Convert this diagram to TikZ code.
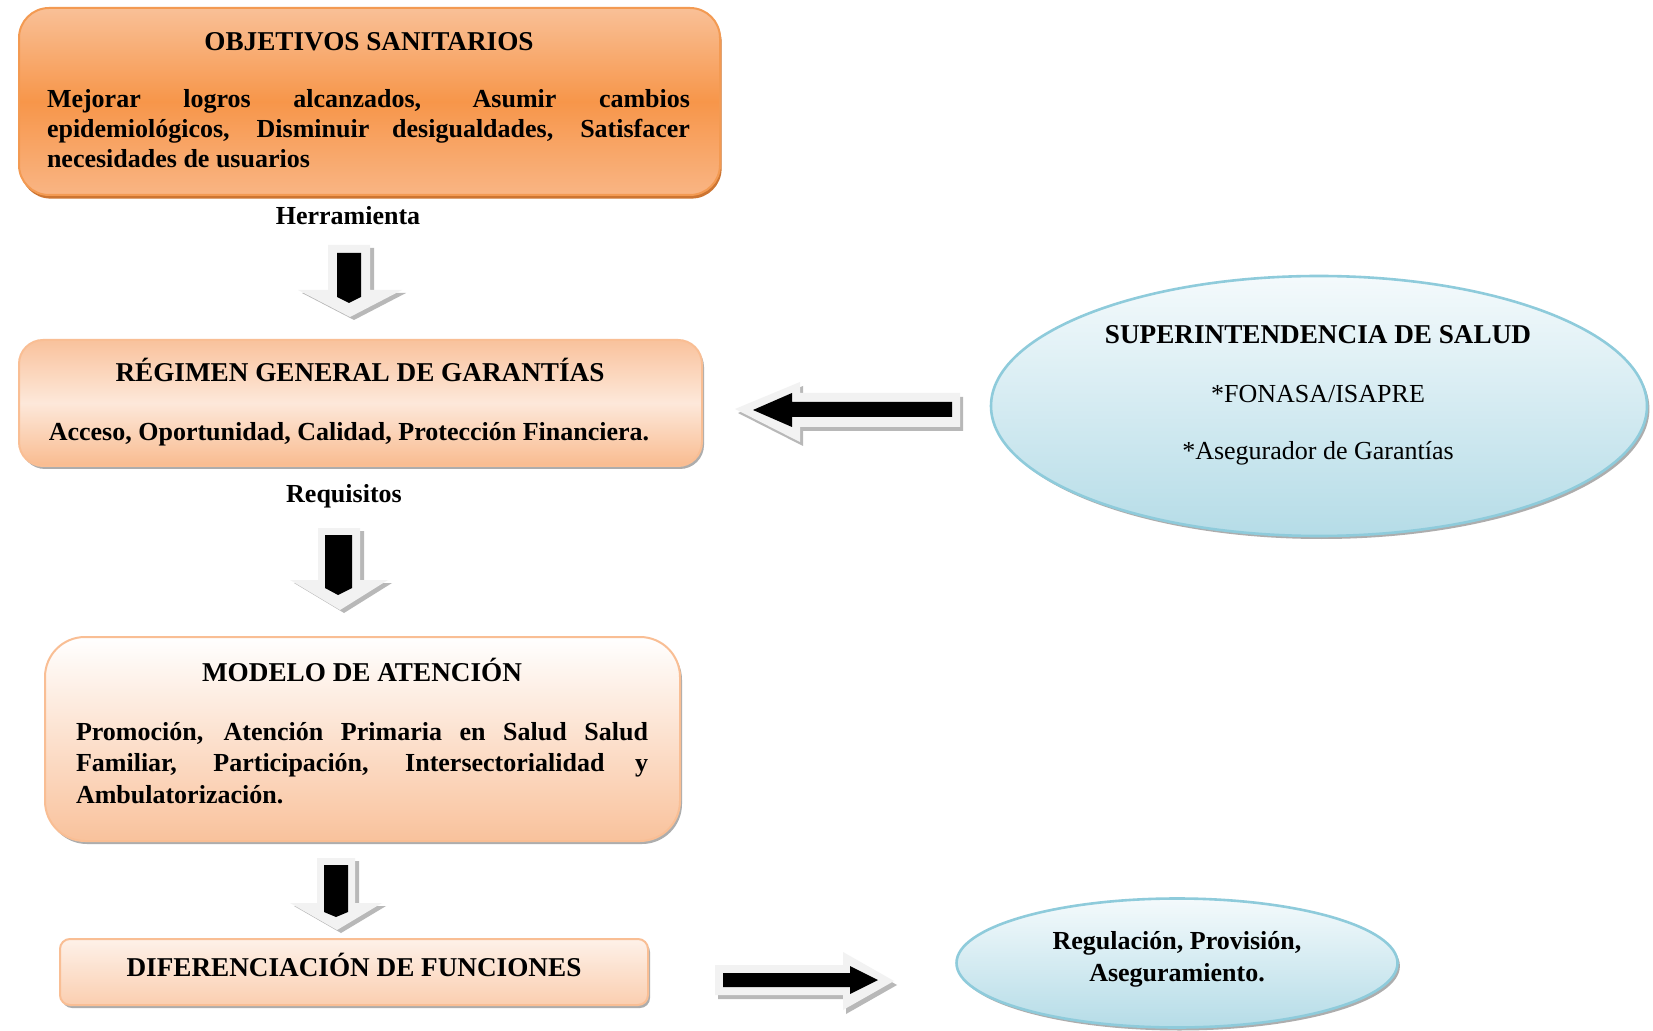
\documentclass[tikz,border=0pt]{standalone}
\usepackage{fontspec}
\setmainfont{Liberation Serif}
\usetikzlibrary{shadows,shapes.geometric}
\definecolor{orTop}{HTML}{F9C097}
\definecolor{orMid}{HTML}{F7964A}
\definecolor{orBot}{HTML}{F9B584}
\definecolor{orLine}{HTML}{F39A52}
\definecolor{orShadow}{HTML}{C8661C}
\definecolor{peach}{HTML}{F9C29C}
\definecolor{peachLight}{HTML}{FDE8DA}
\definecolor{peachLine}{HTML}{F9BE94}
\definecolor{blTop}{HTML}{F4FAFC}
\definecolor{blBot}{HTML}{B5DCE7}
\definecolor{blLine}{HTML}{8ECBDB}
\definecolor{arrLight}{HTML}{F2F2F2}
\definecolor{arrShadow}{HTML}{B8B8B8}
\begin{document}
\begin{tikzpicture}[x=0.5pt,y=-0.5pt,
  every node/.style={inner sep=0pt, outer sep=0pt},
  txt/.style={font=\fontsize{13}{15}\selectfont\bfseries},
  ttl/.style={font=\fontsize{13.6}{15}\selectfont\bfseries},
  txtn/.style={font=\fontsize{13}{15}\selectfont},
  boxbase/.style={rounded corners=#1, line width=1pt},
  objbox/.style={boxbase=15pt, draw=orLine, top color=orTop, bottom color=orBot, middle color=orMid,
     drop shadow={shadow xshift=0.8pt, shadow yshift=-1.8pt, fill=orShadow, opacity=0.9}},
  regbox/.style={boxbase=12pt, draw=peachLine, top color=peach, bottom color=peach!85!orMid, middle color=peachLight,
     drop shadow={shadow xshift=1pt, shadow yshift=-1.5pt, fill=black!40, opacity=0.8}},
  modbox/.style={boxbase=20pt, draw=peachLine, top color=white, bottom color=peach,
     drop shadow={shadow xshift=1pt, shadow yshift=-1.5pt, fill=black!40, opacity=0.8}},
  difbox/.style={boxbase=5pt, draw=peachLine, top color=peachLight!60!white, bottom color=peach!80!white,
     drop shadow={shadow xshift=1pt, shadow yshift=-1.5pt, fill=black!40, opacity=0.8}},
  ovalbox/.style={ellipse, line width=1.3pt, draw=blLine, top color=blTop, bottom color=blBot,
     drop shadow={shadow xshift=1.2pt, shadow yshift=-1.5pt, fill=black!40, opacity=0.8}},
  arrout/.style={fill=arrLight},
  arrsh/.style={fill=arrShadow},
  arrin/.style={fill=black}
]
\useasboundingbox[fill=white] (0,0) rectangle (1653,1031);

% ---------- boxes ----------
\node[objbox, minimum width=350.5pt, minimum height=93.5pt] (obj) at (369.5,101.5) {};
\node[ttl] (objT) at (369,42) {OBJETIVOS SANITARIOS};
\node[txt, text width=321.5pt, align=justify] (objB) at (368.5,129)
  {Mejorar logros alcanzados, Asumir cambios\linebreak epidemiológicos, Disminuir desigualdades, Satisfacer\linebreak necesidades de usuarios};
\node[txt] (herr) at (348,216) {Herramienta};

\node[regbox, minimum width=341.5pt, minimum height=63pt] (reg) at (360.5,403) {};
\node[ttl] (regT) at (360,370) {RÉGIMEN GENERAL DE GARANTÍAS};
\node[txt] (regB) at (349,434) {Acceso, Oportunidad, Calidad, Protección Financiera.};
\node[txt] (req) at (344,496) {Requisitos};

\node[modbox, minimum width=317.5pt, minimum height=102pt] (mod) at (362.5,739) {};
\node[ttl] (modT) at (362,670) {MODELO DE ATENCIÓN};
\node[txt, text width=286pt, align=justify, font=\fontsize{13}{15.8}\selectfont\bfseries] (modB) at (362,763)
  {Promoción, Atención Primaria en Salud Salud\linebreak Familiar, Participación, Intersectorialidad y\linebreak Ambulatorización.};

\node[difbox, minimum width=294pt, minimum height=33pt] (dif) at (354,972) {};
\node[ttl] (difT) at (354,965) {DIFERENCIACIÓN DE FUNCIONES};

\node[ovalbox, minimum width=328pt, minimum height=130pt] (sup) at (1319,406) {};
\node[ttl] (supT) at (1318,335) {SUPERINTENDENCIA DE SALUD};
\node[txtn] (supA) at (1318,394) {*FONASA/ISAPRE};
\node[txtn] (supB) at (1318,453) {*Asegurador de Garantías};

\node[ovalbox, minimum width=220.5pt, minimum height=64.5pt] (fun) at (1177,963) {};
\node[txt, align=center, font=\fontsize{13}{16}\selectfont\bfseries] (funT) at (1177,959) {Regulación, Provisión,\\Aseguramiento.};

% ---------- block arrows ----------
% obj -> reg
\begin{scope}
\path[arrsh, shift={(4,3)}] (328,245) -- (370,245) -- (370,290) -- (402,290) -- (350,317) -- (298,290) -- (328,290) -- cycle;
\path[arrout] (328,245) -- (370,245) -- (370,290) -- (402,290) -- (350,317) -- (298,290) -- (328,290) -- cycle;
\path[arrin] (337,253) -- (361,253) -- (361,297) -- (349,303) -- (337,297) -- cycle;
\end{scope}
% reg -> mod
\begin{scope}
\path[arrsh, shift={(4,3)}] (318,528) -- (360,528) -- (360,580) -- (388,580) -- (340,610) -- (290,580) -- (318,580) -- cycle;
\path[arrout] (318,528) -- (360,528) -- (360,580) -- (388,580) -- (340,610) -- (290,580) -- (318,580) -- cycle;
\path[arrin] (325,535) -- (352,535) -- (352,588) -- (338,595) -- (325,588) -- cycle;
\end{scope}
% mod -> dif
\begin{scope}
\path[arrsh, shift={(4,3)}] (317,858) -- (355,858) -- (355,903) -- (382,903) -- (337,930) -- (290,903) -- (317,903) -- cycle;
\path[arrout] (317,858) -- (355,858) -- (355,903) -- (382,903) -- (337,930) -- (290,903) -- (317,903) -- cycle;
\path[arrin] (324,865) -- (348,865) -- (348,912) -- (336,917) -- (324,912) -- cycle;
\end{scope}
% sup -> reg
\begin{scope}
\path[arrsh, shift={(3,4)}] (735,409) -- (800,382) -- (800,393) -- (960,393) -- (960,427) -- (800,427) -- (800,442) -- cycle;
\path[arrout] (735,409) -- (800,382) -- (800,393) -- (960,393) -- (960,427) -- (800,427) -- (800,442) -- cycle;
\path[arrin] (753,410) -- (792,393) -- (792,402) -- (952,402) -- (952,417) -- (792,417) -- (792,427) -- cycle;
\end{scope}
% dif -> fun
\begin{scope}
\path[arrsh, shift={(3,4)}] (715,965) -- (843,965) -- (843,952) -- (894,981) -- (843,1010) -- (843,995) -- (715,995) -- cycle;
\path[arrout] (715,965) -- (843,965) -- (843,952) -- (894,981) -- (843,1010) -- (843,995) -- (715,995) -- cycle;
\path[arrin] (723,973) -- (850,973) -- (850,966) -- (878,980) -- (850,994) -- (850,987) -- (723,987) -- cycle;
\end{scope}
\end{tikzpicture}
\end{document}
